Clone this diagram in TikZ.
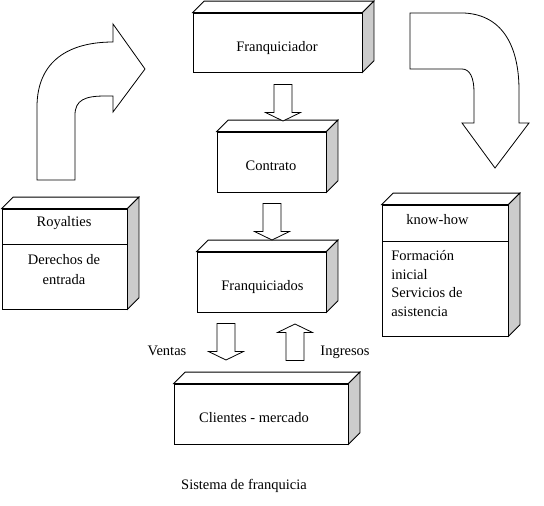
\documentclass[tikz,border=0pt]{standalone}
\usepackage{fontspec}
\setmainfont{Liberation Serif}
\usetikzlibrary{calc}

\definecolor{caragris}{RGB}{204,204,204}

\tikzset{
  caja/.style={draw, fill=white, inner sep=0pt},
  texto/.style={inner sep=0pt, anchor=base},
  flecha/.pic={
    \draw[fill=white] (0,0) -- (-17.5,-8.5) -- (-9,-8.5) -- (-9,-36.5)
      -- (9,-36.5) -- (9,-8.5) -- (17.5,-8.5) -- cycle;
  }
}

% top and side faces of a box (upper node, lower node)
\newcommand{\cubo}[2]{
  \draw[fill=white] (#1.north west) -- ++(\prof,-\prof)
    -- ($(#1.north east)+(\prof,-\prof)$) -- (#1.north east) -- cycle;
  \draw[fill=caragris] (#1.north east) -- ++(\prof,-\prof)
    -- ($(#2.south east)+(\prof,-\prof)$) -- (#2.south east) -- cycle;
}

\begin{document}
\begin{tikzpicture}[x=1pt, y=-1pt, line width=0.8pt, font=\fontsize{14.5}{19}\selectfont]
        \def \prof {11.5}
        \useasboundingbox (0,0) rectangle (544,506);

        \node[caja, minimum width=169pt, minimum height=59pt] (franquiciador) at (277.5,42.5) {};
        \node[caja, minimum width=109pt, minimum height=60pt] (contrato) at (271.5,162) {};
        \node[caja, minimum width=129pt, minimum height=60pt] (franquiciados) at (261.5,282) {};
        \node[caja, minimum width=174pt, minimum height=60pt] (clientes) at (261,414) {};
        \node[caja, minimum width=125pt, minimum height=35pt] (roysup) at (64.5,226.5) {};
        \node[caja, minimum width=125pt, minimum height=65pt] (royinf) at (64.5,276.5) {};
        \node[caja, minimum width=126pt, minimum height=36pt] (knowsup) at (445,223) {};
        \node[caja, minimum width=126pt, minimum height=95pt] (knowinf) at (445,288.5) {};

        \cubo{franquiciador}{franquiciador}
        \cubo{contrato}{contrato}
        \cubo{franquiciados}{franquiciados}
        \cubo{clientes}{clientes}
        \cubo{roysup}{royinf}
        \cubo{knowsup}{knowinf}

        \node[texto] (tfranquiciador) at (277,51) {Franquiciador};
        \node[texto] (tcontrato) at (271,170) {Contrato};
        \node[texto] (tfranquiciados) at (262.5,290) {Franquiciados};
        \node[texto] (tclientes) at (254,422) {Clientes - mercado};
        \node[texto] (troyalties) at (64,226) {Royalties};
        \node[texto, align=center, font=\fontsize{14.5}{20}\selectfont] (tderechos) at (64,284) {Derechos de\\entrada};
        \node[texto] (tknow) at (437.5,224) {know-how};
        \node[texto, anchor=base west, align=left, font=\fontsize{14.5}{18.5}\selectfont] (tformacion) at (391,316)
          {Formación\\inicial\\Servicios de\\asistencia};
        \node[texto] (tventas) at (167,355) {Ventas};
        \node[texto] (tingresos) at (345,355.5) {Ingresos};
        \node[texto] (tsistema) at (244,489) {Sistema de franquicia};

        \pic at (283,121) {flecha};
        \pic at (272,240) {flecha};
        \pic at (226,360) {flecha};
        \pic[rotate=180] at (295,324) {flecha};

        % curved arrows
        \draw[fill=white] (37,180) -- (37,107) .. controls (37,60) and (70,42) .. (113,42)
          -- (113,24) -- (145,69) -- (113,112) -- (113,96) -- (105,96)
          .. controls (85,96) and (75,100) .. (75,115) -- (75,180) -- cycle;
        \draw[fill=white] (410,13) -- (464,13) .. controls (505,15) and (519,50) .. (519,90)
          -- (519,123) -- (529,123) -- (495,168) -- (462,123) -- (474,123) -- (474,92)
          .. controls (474,78) and (470,69) .. (462,69) -- (410,69) -- cycle;
      \end{tikzpicture}
\end{document}
